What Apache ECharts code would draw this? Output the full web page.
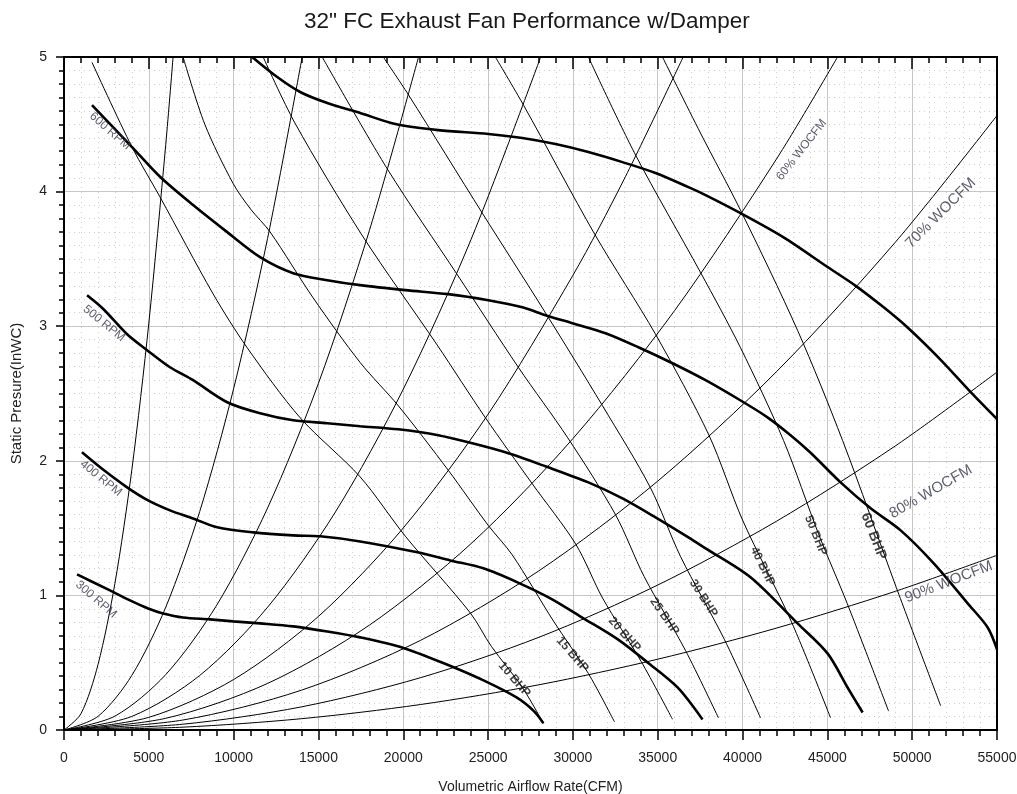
<!DOCTYPE html>
<html>
<head>
<meta charset="utf-8">
<script src="https://cdn.jsdelivr.net/npm/echarts/dist/echarts.min.js"></script>
<style>
  html, body { margin: 0; padding: 0; background: #ffffff; }
  #chart { width: 1017px; height: 794px; }
</style>
</head>
<body>
<div id="chart"></div>
<script>
// ---- Fan curves: static pressure (inWC) vs airflow (CFM) at constant speed ----
const rpmValues = [300, 400, 500, 600, 700];

const rpm300 = [[770,1.156],[2710,1.037],[3890,0.963],[4960,0.903],[5840,0.866],[7020,0.836],[8610,0.822],[9970,0.807],[11560,0.792],[13510,0.770],[15520,0.732],[17460,0.688],[20000,0.61],[22500,0.49],[24700,0.37],[26700,0.24],[27700,0.14],[28260,0.05]];
const rpm400 = [[1060,2.063],[2300,1.935],[3720,1.803],[4900,1.710],[6250,1.632],[7610,1.572],[9030,1.506],[11150,1.468],[13510,1.446],[15100,1.439],[17460,1.401],[20830,1.320],[22770,1.260],[24720,1.201],[26730,1.097],[28670,0.978],[30620,0.83],[32630,0.675],[34400,0.502],[36170,0.316],[37640,0.078]];
const rpm500 = [[1360,3.23],[2300,3.13],[3720,2.94],[4900,2.822],[6250,2.695],[7610,2.599],[9620,2.435],[11560,2.353],[13510,2.301],[15520,2.279],[17460,2.257],[19700,2.234],[22060,2.19],[24070,2.13],[26020,2.063],[28380,1.959],[30910,1.84],[32920,1.721],[34870,1.58],[36810,1.431],[37820,1.349],[40470,1.134],[43240,0.792],[45010,0.569],[46190,0.316],[47080,0.13]];
const rpm600 = [[1650,4.643],[4010,4.331],[5660,4.11],[7610,3.9],[9620,3.699],[11560,3.513],[13510,3.394],[15520,3.342],[17460,3.305],[20120,3.268],[22650,3.238],[25010,3.193],[27020,3.141],[28380,3.082],[29970,3.022],[31920,2.948],[33860,2.844],[35870,2.725],[37820,2.599],[40060,2.435],[41470,2.323],[42830,2.19],[44010,2.06],[45780,1.84],[47550,1.647],[49320,1.483],[51270,1.238],[53270,0.941],[54450,0.762],[55000,0.6]];
const rpm700 = [[11090,5.0],[12570,4.851],[13920,4.74],[15520,4.658],[17460,4.584],[19530,4.502],[22060,4.457],[25010,4.428],[27020,4.398],[28970,4.353],[30910,4.294],[32920,4.219],[34870,4.138],[36810,4.033],[37820,3.974],[39880,3.84],[42420,3.66],[45010,3.44],[46670,3.30],[48320,3.14],[49730,2.99],[51680,2.75],[53450,2.51],[55000,2.31]];

// ---- Constant brake-horsepower lines ----
const bhpValues = [10, 15, 20, 25, 30, 40, 50, 60];

const bhp10 = [[1650,4.96],[4010,4.33],[5660,3.96],[8790,3.24],[10800,2.84],[13920,2.32],[17460,1.88],[20120,1.44],[23950,0.87],[25200,0.62],[27000,0.32],[28260,0.05]];
const bhp15 = [[7020,5.0],[8300,4.50],[9970,4.06],[11000,3.87],[12150,3.70],[14690,3.21],[17460,2.73],[19700,2.41],[22650,1.93],[25010,1.52],[26430,1.30],[28850,0.81],[30910,0.42],[32450,0.06]];
const bhp20 = [[11740,5.0],[13610,4.51],[17600,3.67],[22000,2.86],[24840,2.32],[27600,1.83],[30170,1.38],[31750,0.98],[34020,0.51],[35870,0.08]];
const bhp25 = [[15220,5.0],[19100,4.16],[23200,3.38],[26780,2.695],[29700,2.17],[32510,1.60],[34200,1.14],[36640,0.59],[38580,0.09]];
const bhp30 = [[18820,5.0],[20300,4.72],[24660,3.84],[28380,3.10],[31740,2.41],[34570,1.80],[36340,1.29],[38940,0.67],[41060,0.09]];
const bhp40 = [[25430,5.0],[27100,4.64],[31300,3.68],[34870,2.94],[38020,2.19],[40000,1.56],[42860,0.81],[45190,0.09]];
const bhp50 = [[30910,5.0],[33700,4.27],[37520,3.40],[39880,2.84],[42420,2.15],[44500,1.45],[46170,0.94],[48610,0.14]];
const bhp60 = [[35280,5.0],[37520,4.435],[39880,3.862],[43240,2.97],[45900,2.15],[49060,1.06],[51680,0.18]];

// ---- System curves through the origin, % of wide-open CFM ----
const wocfmValues = [10, 20, 30, 40, 50, 60, 70, 80, 90];

const woc10 = [[0,0],[1000,0.121],[2000,0.484],[3000,1.088],[4000,1.934],[5000,3.023],[6000,4.352],[6430,5.0]];
const woc20 = [[0,0],[2000,0.101],[4000,0.406],[6000,0.913],[8000,1.623],[10000,2.536],[12000,3.652],[14040,5.0]];
const woc30 = [[0,0],[3000,0.103],[6000,0.412],[9000,0.927],[12000,1.649],[15000,2.576],[18000,3.71],[20900,5.0]];
const woc40 = [[0,0],[4000,0.101],[8000,0.405],[12000,0.912],[16000,1.62],[20000,2.532],[24000,3.646],[28100,5.0]];
const woc50 = [[0,0],[5000,0.094],[10000,0.375],[15000,0.844],[20000,1.501],[25000,2.346],[30000,3.378],[33000,4.087],[36500,5.0]];
const woc60 = [[0,0],[6000,0.087],[12000,0.346],[18000,0.779],[24000,1.385],[30000,2.165],[36000,3.117],[42000,4.242],[45600,5.0]];
const woc70 = [[0,0],[7000,0.074],[14000,0.296],[21000,0.665],[28000,1.183],[35000,1.849],[42000,2.662],[49000,3.623],[55000,4.565]];
const woc80 = [[0,0],[7000,0.043],[14000,0.172],[21000,0.388],[28000,0.689],[35000,1.077],[42000,1.551],[49000,2.11],[55000,2.659]];
const woc90 = [[0,0],[7000,0.021],[14000,0.084],[21000,0.189],[28000,0.336],[35000,0.526],[42000,0.757],[49000,1.03],[55000,1.298]];

// ---- Axis ticks ----
const xTicks = [0, 5000, 10000, 15000, 20000, 25000, 30000, 35000, 40000, 45000, 50000, 55000];
const yTicks = [0, 1, 2, 3, 4, 5];

// ---- Annotation placement (data coordinates) and rotation ----
const rpmLabelLayout = [
  { x: 1890, y: 0.97, rotate: -41 },
  { x: 2180, y: 1.87, rotate: -39 },
  { x: 2360, y: 3.02, rotate: -39 },
  { x: 2710, y: 4.45, rotate: -41 }
];
const bhpLabelLayout = [
  { x: 26550, y: 0.375, rotate: -49, size: 12 },
  { x: 29970, y: 0.561, rotate: -49, size: 12 },
  { x: 33040, y: 0.71, rotate: -48, size: 12 },
  { x: 35400, y: 0.844, rotate: -55, size: 12 },
  { x: 37700, y: 0.978, rotate: -57, size: 12 },
  { x: 41180, y: 1.216, rotate: -64, size: 12 },
  { x: 44310, y: 1.446, rotate: -68, size: 12 },
  { x: 47730, y: 1.439, rotate: -69, size: 14 }
];
const wocLabelLayout = {
  60: { x: 43480, y: 4.31, rotate: 52, size: 12 },
  70: { x: 51680, y: 3.84, rotate: 45, size: 15 },
  80: { x: 51100, y: 1.77, rotate: 30, size: 15 },
  90: { x: 52150, y: 1.10, rotate: 21, size: 15 }
};

const FONT = '"Liberation Sans", Arial, sans-serif';

function curve(name, data, width) {
  return {
    name: name,
    type: 'line',
    data: data,
    smooth: 0.3,
    showSymbol: false,
    symbol: 'none',
    silent: true,
    clip: true,
    xAxisIndex: 0,
    yAxisIndex: 0,
    lineStyle: { color: '#000000', width: width },
    z: width > 1.5 ? 4 : 3,
    animation: false
  };
}

const rpmCurves = [rpm300, rpm400, rpm500, rpm600, rpm700];
const bhpCurves = [bhp10, bhp15, bhp20, bhp25, bhp30, bhp40, bhp50, bhp60];
const wocCurves = [woc10, woc20, woc30, woc40, woc50, woc60, woc70, woc80, woc90];

const series = [];
wocCurves.forEach((d, i) => series.push(curve(wocfmValues[i] + '% WOCFM', d, 1)));
bhpCurves.forEach((d, i) => series.push(curve(bhpValues[i] + ' BHP', d, 1)));
rpmCurves.forEach((d, i) => series.push(curve(rpmValues[i] + ' RPM', d, 2.6)));

// Text annotations placed through the chart's own coordinate system
const labelItems = [];
rpmLabelLayout.forEach((p, i) => {
  labelItems.push({
    value: [p.x, p.y],
    label: { formatter: rpmValues[i] + ' RPM', rotate: p.rotate, fontSize: 12, color: '#34364a' }
  });
});
bhpLabelLayout.forEach((p, i) => {
  labelItems.push({
    value: [p.x, p.y],
    label: { formatter: bhpValues[i] + ' BHP', rotate: p.rotate, fontSize: p.size, fontWeight: 'bold', color: '#111111' }
  });
});
[60, 70, 80, 90].forEach(v => {
  const p = wocLabelLayout[v];
  labelItems.push({
    value: [p.x, p.y],
    label: { formatter: v + '% WOCFM', rotate: p.rotate, fontSize: p.size, color: '#34364a' }
  });
});
series.push({
  name: 'annotations',
  type: 'scatter',
  data: labelItems,
  symbolSize: 1,
  itemStyle: { color: 'rgba(0,0,0,0)' },
  silent: true,
  z: 6,
  animation: false,
  label: { show: true, position: 'inside', fontFamily: FONT }
});

const chart = echarts.init(document.getElementById('chart'), null, { renderer: 'canvas' });
chart.setOption({
  backgroundColor: '#ffffff',
  animation: false,
  title: {
    text: '32" FC Exhaust Fan Performance w/Damper',
    left: 299,
    top: 5,
    textStyle: { fontFamily: FONT, fontSize: 22.5, fontWeight: 'normal', color: '#1a1a1a' }
  },
  grid: { left: 64, right: 20, top: 57, bottom: 64, containLabel: false, outerBoundsMode: 'none' },
  xAxis: [
    {
      type: 'value', position: 'bottom', min: 0, max: 55000, interval: 5000,
      name: 'Volumetric Airflow Rate(CFM)', nameLocation: 'middle', nameGap: 50,
      nameTextStyle: { fontFamily: FONT, fontSize: 14, color: '#222' },
      axisLine: { show: true, onZero: false, lineStyle: { color: '#000', width: 2 } },
      axisTick: { show: true, inside: false, length: 10, lineStyle: { color: '#000', width: 1.5 } },
      minorTick: { show: true, splitNumber: 5, length: 6, lineStyle: { color: '#000', width: 1.5 } },
      splitLine: { show: true, lineStyle: { color: '#c6c6c6', width: 1 } },
      minorSplitLine: { show: true, lineStyle: { color: '#cfcfcf', width: 1, type: [1, 4] } },
      axisLabel: {
        fontFamily: FONT, fontSize: 14, color: '#222', margin: 21,
        formatter: v => (xTicks.indexOf(v) >= 0 ? String(v) : '')
      }
    },
    {
      type: 'value', position: 'top', min: 0, max: 55000, interval: 5000,
      axisLine: { show: true, onZero: false, lineStyle: { color: '#000', width: 2 } },
      axisTick: { show: true, inside: true, length: 12, lineStyle: { color: '#000', width: 1.5 } },
      minorTick: { show: true, splitNumber: 5, length: 6, lineStyle: { color: '#000', width: 1.5 } },
      splitLine: { show: false },
      axisLabel: { show: false }
    }
  ],
  yAxis: [
    {
      type: 'value', position: 'left', min: 0, max: 5, interval: 1,
      name: 'Static Presure(InWC)', nameLocation: 'middle', nameGap: 40, nameRotate: 90,
      nameTextStyle: { fontFamily: FONT, fontSize: 15, color: '#222' },
      axisLine: { show: true, onZero: false, lineStyle: { color: '#000', width: 2 } },
      axisTick: { show: true, inside: false, length: 8, lineStyle: { color: '#000', width: 1.5 } },
      minorTick: { show: true, splitNumber: 10, length: 5, lineStyle: { color: '#000', width: 1.5 } },
      splitLine: { show: true, lineStyle: { color: '#c6c6c6', width: 1 } },
      minorSplitLine: { show: true, lineStyle: { color: '#cfcfcf', width: 1, type: [1, 4] } },
      axisLabel: {
        fontFamily: FONT, fontSize: 14, color: '#222', margin: 17,
        formatter: v => (yTicks.indexOf(v) >= 0 ? String(v) : '')
      }
    },
    {
      type: 'value', position: 'right', min: 0, max: 5, interval: 1,
      axisLine: { show: true, onZero: false, lineStyle: { color: '#000', width: 2 } },
      axisTick: { show: false },
      splitLine: { show: false },
      axisLabel: { show: false }
    }
  ],
  series: series
});
</script>
</body>
</html>
